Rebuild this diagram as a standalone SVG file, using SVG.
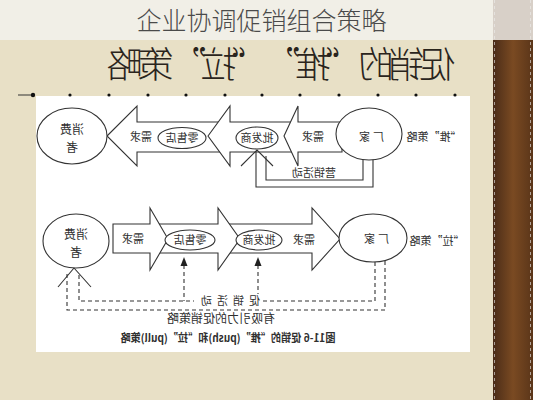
<svg xmlns="http://www.w3.org/2000/svg" width="533" height="400" viewBox="0 0 533 400">
<defs>
<style>
.t{font-family:"Noto Sans CJK SC","Noto Sans",sans-serif;fill:#2f2f2f;text-anchor:middle}
.s11{font-size:11px}
.s12{font-size:12px}
.ln{fill:none;stroke:#333;stroke-width:1.1}
.dash{fill:none;stroke:#333;stroke-width:1.1;stroke-dasharray:4 3}
.arw{fill:#fff;stroke:#333;stroke-width:1.1;stroke-linejoin:miter}
.el{fill:#fff;stroke:#333;stroke-width:1.1}
.dot{fill:#111}
</style>
<linearGradient id="brown" x1="0" y1="0" x2="1" y2="0">
<stop offset="0" stop-color="#4a2c18"/>
<stop offset="0.5" stop-color="#7a4a22"/>
<stop offset="1" stop-color="#5a3519"/>
</linearGradient>
</defs>
<!-- backgrounds -->
<rect x="0" y="0" width="533" height="400" fill="#e8e0c6"/>
<rect x="0" y="0" width="493" height="40" fill="#f1efe7"/>
<rect x="493" y="0" width="40" height="40" fill="#d8d0c8"/>
<rect x="493" y="40" width="40" height="360" fill="url(#brown)"/>
<line x1="494.5" y1="0" x2="494.5" y2="400" stroke="#eee" stroke-width="1" stroke-dasharray="3 3" opacity="0.6"/>
<line x1="530.5" y1="0" x2="530.5" y2="400" stroke="#eee" stroke-width="1" stroke-dasharray="3 3" opacity="0.6"/>
<text x="261.5" y="30" style="font-family:'Noto Sans CJK SC','Noto Sans',sans-serif;font-size:25px;fill:#4a4a4a;text-anchor:middle;font-weight:300">企业协调促销组合策略</text>
<text x="-281" y="78" transform="scale(-1,1)" textLength="348" lengthAdjust="spacing" style="font-family:'Noto Sans CJK SC','Noto Sans',sans-serif;font-size:36px;fill:#2a241c;text-anchor:middle;font-weight:300">促销的 “推” “拉” 策略</text>
<!-- white picture area -->
<rect x="36" y="96" width="434" height="256" fill="#fff"/>
<g id="dots">
<line x1="18" y1="95" x2="32" y2="95" stroke="#333" stroke-width="1"/>
<circle class="dot" cx="33" cy="95" r="2.2"/>
<circle class="dot" cx="70" cy="95" r="1.6"/>
<circle class="dot" cx="109" cy="95" r="1.6"/>
<circle class="dot" cx="148" cy="95" r="1.6"/>
<circle class="dot" cx="186" cy="95" r="1.6"/>
<circle class="dot" cx="225" cy="95" r="1.6"/>
<circle class="dot" cx="262" cy="95" r="1.6"/>
<circle class="dot" cx="300" cy="95" r="1.6"/>
<circle class="dot" cx="339" cy="95" r="1.6"/>
<circle class="dot" cx="378" cy="95" r="1.6"/>
<circle class="dot" cx="416" cy="95" r="1.6"/>
<circle class="dot" cx="455" cy="95" r="1.6"/>
</g>
<!-- connectors -->
<g id="connectors">
<!-- top push: big arrows -->
<polygon class="arw" points="107,136 137,106 137,122 225,122 225,152 137,152 137,166"/>
<polygon class="arw" points="208,136 230,106 230,122 294,122 294,152 230,152 230,166"/>
<polygon class="arw" points="284,136 298,106 298,122 342,122 342,152 298,152 298,166"/>
<!-- top marketing activity loop -->
<polyline class="ln" points="373,159 373,187 256,187 256,151"/>
<polyline class="ln" points="266,156 266,180 363,180 363,158"/>
<polyline class="ln" points="241,166 257,150 273,166"/>
<!-- bottom pull: big arrows -->
<polygon class="arw" points="224,224 312,224 312,208 340,239 312,270 312,253 224,253"/>
<polygon class="arw" points="155,224 218,224 218,208 240,239 218,270 218,253 155,253"/>
<polygon class="arw" points="113,224 150,224 150,208 168,239 150,270 150,253 113,253"/>
<!-- bottom dashed loops -->
<polyline class="dash" points="385,261 385,310 67,310 67,274"/>
<polyline class="dash" points="375,262 375,301 79,301 79,274"/>
<line class="dash" x1="184" y1="265" x2="184" y2="301"/>
<line class="dash" x1="258" y1="265" x2="258" y2="301"/>
<polygon points="184,257 180.5,266 187.5,266" fill="#222"/>
<polygon points="258,257 254.5,266 261.5,266" fill="#222"/>
<polyline class="ln" points="58,287 74,268 91,287"/>
<rect x="194" y="294" width="68" height="14" fill="#fff"/>
</g>
<!-- top nodes -->
<g id="consumer-push">
<ellipse class="el" cx="72" cy="136" rx="35" ry="28"/>
<text class="t s12" x="-72" y="134" transform="scale(-1,1)">消费</text>
<text class="t s12" x="-72" y="152" transform="scale(-1,1)">者</text>
</g>
<g id="demand-push-1"><text class="t s11" x="-141" y="141" transform="scale(-1,1)">需求</text></g>
<g id="retailer-push">
<ellipse class="el" cx="182" cy="138" rx="24" ry="10.5"/>
<text class="t s11" x="-182" y="142" transform="scale(-1,1)">零售店</text>
</g>
<g id="wholesaler-push">
<ellipse class="el" cx="257" cy="138" rx="21" ry="11"/>
<text class="t s11" x="-257" y="142" transform="scale(-1,1)">批发商</text>
</g>
<g id="demand-push-2"><text class="t s11" x="-313" y="141" transform="scale(-1,1)">需求</text></g>
<g id="maker-push">
<ellipse class="el" cx="369" cy="134" rx="33" ry="26"/>
<text class="t s11" x="-370" y="141" transform="scale(-1,1)" letter-spacing="3">厂家</text>
</g>
<g id="push-label"><text class="t s11" x="-434" y="141" transform="scale(-1,1)">“推”策略</text></g>
<g id="marketing-label"><text class="t s11" x="-314" y="177" transform="scale(-1,1)">营销活动</text></g>
<!-- bottom nodes -->
<g id="consumer-pull">
<ellipse class="el" cx="76" cy="241" rx="33" ry="27"/>
<text class="t s12" x="-76" y="239" transform="scale(-1,1)">消费</text>
<text class="t s12" x="-76" y="257" transform="scale(-1,1)">者</text>
</g>
<g id="demand-pull-1"><text class="t s11" x="-133" y="243" transform="scale(-1,1)">需求</text></g>
<g id="retailer-pull">
<ellipse class="el" cx="190" cy="240" rx="25" ry="10"/>
<text class="t s11" x="-190" y="244" transform="scale(-1,1)">零售店</text>
</g>
<g id="wholesaler-pull">
<ellipse class="el" cx="259" cy="240" rx="23" ry="10"/>
<text class="t s11" x="-259" y="244" transform="scale(-1,1)">批发商</text>
</g>
<g id="demand-pull-2"><text class="t s11" x="-304" y="244" transform="scale(-1,1)">需求</text></g>
<g id="maker-pull">
<ellipse class="el" cx="373" cy="238" rx="34" ry="24"/>
<text class="t s11" x="-375" y="243" transform="scale(-1,1)" letter-spacing="3">厂家</text>
</g>
<g id="pull-label"><text class="t s11" x="-437" y="245" transform="scale(-1,1)">“拉”策略</text></g>
<g id="promo-label"><text class="t s11" x="-228" y="305" transform="scale(-1,1)" letter-spacing="5">促销活动</text></g>
<g id="attract-label"><text class="t s12" x="-221" y="323" transform="scale(-1,1)">有吸引力的促销策略</text></g>
<g id="caption"><text class="t s11" x="-228" y="342" transform="scale(-1,1)" font-weight="bold" textLength="215" lengthAdjust="spacingAndGlyphs">图11-6  促销的“推”(push)和“拉”(pull)策略</text></g>
</svg>
